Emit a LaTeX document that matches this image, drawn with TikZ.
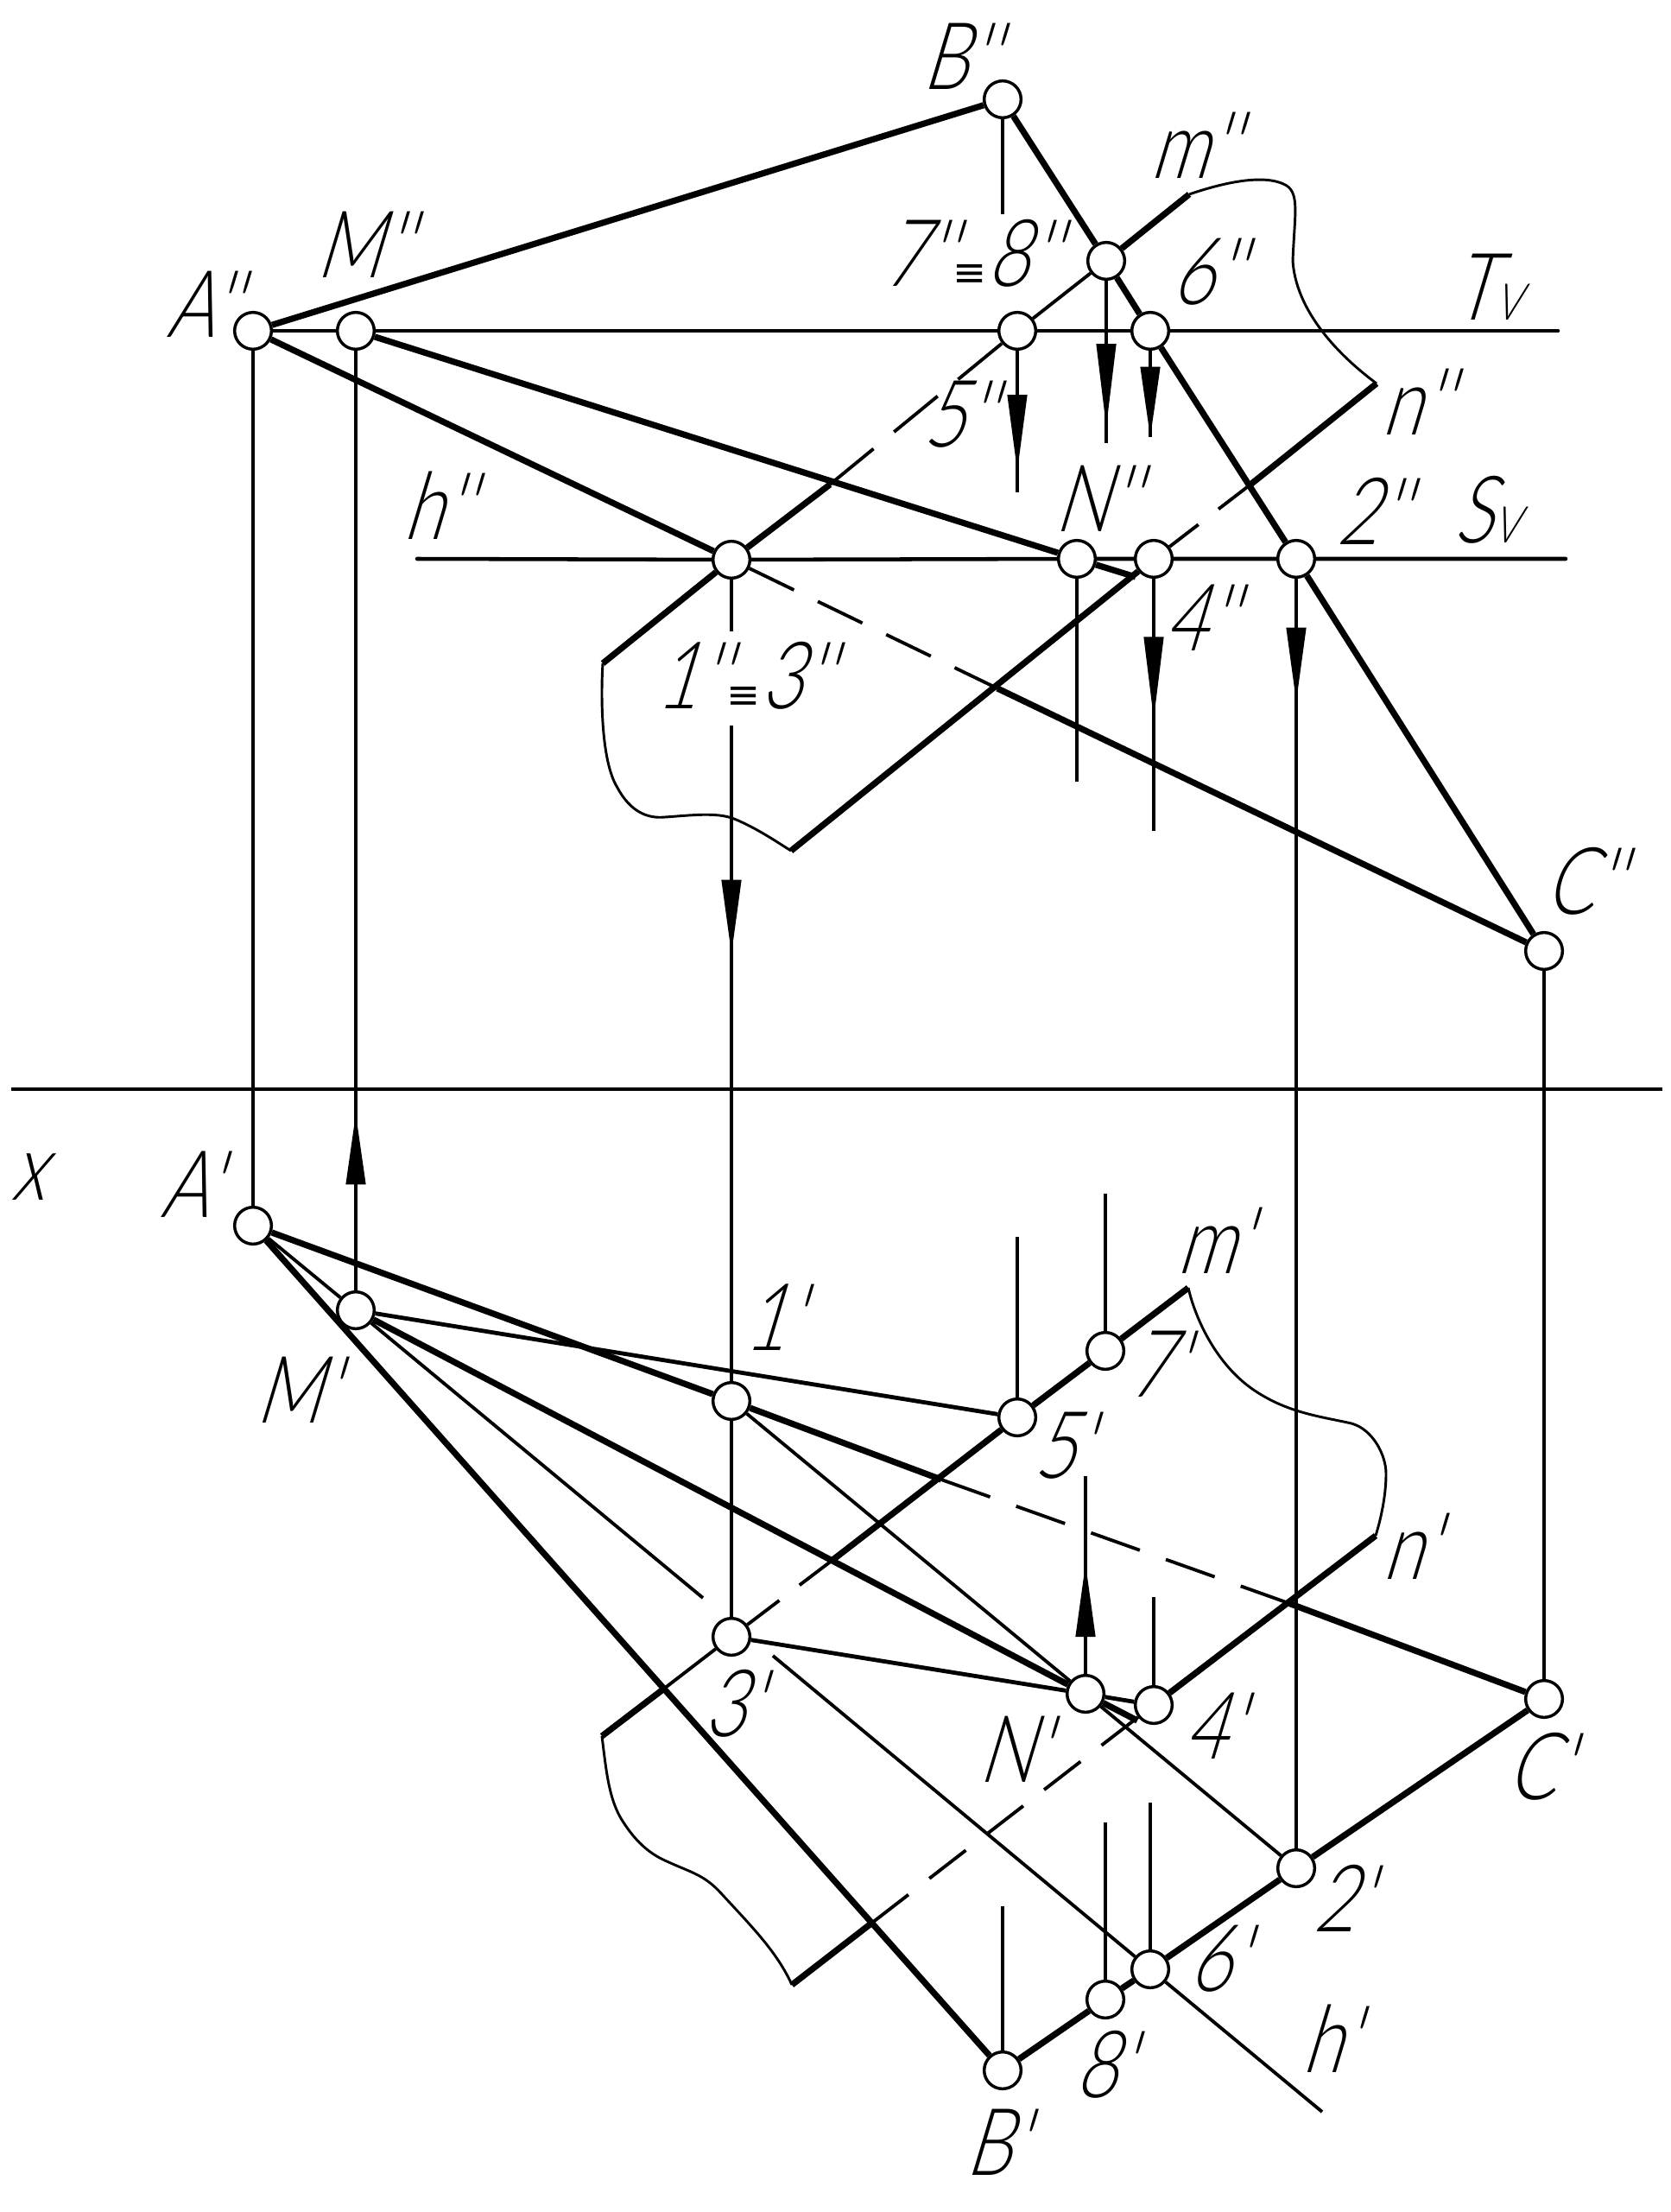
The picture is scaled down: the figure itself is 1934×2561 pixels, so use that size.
\documentclass[tikz,border=0pt]{standalone}
\usepackage{fontspec}
\usetikzlibrary{arrows.meta}
\newfontfamily\lb[FakeSlant=.3,FakeStretch=.78]{Lato Light}
\newfontfamily\eqf{DejaVu Sans}
\newcommand{\smV}{{\fontsize{44pt}{44pt}\selectfont V}}
\newcommand{\eqv}{{\eqf\fontsize{35pt}{35pt}\selectfont ≡}}
\tikzset{
  x=0.75pt,y=-0.75pt,
  pt/.style={circle,draw,fill=white,line width=2.6pt,minimum size=32pt,inner sep=0pt},
  lbl/.style={font=\lb\fontsize{81pt}{81pt}\selectfont,inner sep=0pt,text=black,xshift=-8pt},
  fine/.style={line width=2.9pt},
  mid/.style={line width=3.6pt},
  tr/.style={line width=3.4pt,line cap=round},
  bold/.style={line width=5.4pt,line join=round},
  curvel/.style={line width=2.2pt,line join=round},
  dsh/.style={line width=2.9pt,dash pattern=on #1},
  arr/.style={line width=2.9pt,-{Triangle[length=#1,width=17.5pt,line width=0pt]}}
}
\begin{document}
\begin{tikzpicture}
\useasboundingbox[fill=white] (0,0) rectangle (1934,2561);
% points, upper view
\node[pt] (Au) at (293,383) {};
\node[pt] (Mu) at (412,383) {};
\node[pt] (Bu) at (1161,115) {};
\node[pt] (Ju) at (1281,302) {};
\node[pt] (Fu) at (1178,383) {};
\node[pt] (Su) at (1332,383) {};
\node[pt] (Ou) at (847,648) {};
\node[pt] (Nu) at (1247,647) {};
\node[pt] (Du) at (1336,647) {};
\node[pt] (Tu) at (1501,647) {};
\node[pt] (Cu) at (1788,1101) {};
% points, lower view
\node[pt] (Al) at (293,1419) {};
\node[pt] (Ml) at (412,1517) {};
\node[pt] (Ol) at (847,1622) {};
\node[pt] (Fl) at (1178,1641) {};
\node[pt] (Vl) at (1280,1564) {};
\node[pt] (Hl) at (847,1895) {};
\node[pt] (Nl) at (1257,1961) {};
\node[pt] (Dl) at (1336,1974) {};
\node[pt] (Tl) at (1501,2163) {};
\node[pt] (Sl) at (1332,2280) {};
\node[pt] (El) at (1280,2315) {};
\node[pt] (Bl) at (1161,2397) {};
\node[pt] (Cl) at (1788,1967) {};
% free ends
\coordinate (xa) at (13,1261); \coordinate (xb) at (1925,1261);
\coordinate (tvend) at (1804,383);
\coordinate (hstart) at (483,647); \coordinate (svend) at (1813,647);
\coordinate (mu) at (1377,225); \coordinate (nu) at (1594,444);
\coordinate (pua) at (698,768); \coordinate (pub) at (916,985);
\coordinate (nstub) at (1315,668);
\coordinate (acthick) at (1155,797);
\coordinate (mthick) at (961,561);
\coordinate (nthick) at (1448,561);
\coordinate (ml) at (1376,1491); \coordinate (nl) at (1593,1778);
\coordinate (pla) at (697,2010); \coordinate (plb) at (917,2298);
\coordinate (mlthick) at (963,1807); \coordinate (mlthin) at (769,1955);
\coordinate (nlthick) at (1010,2226);
\coordinate (acla) at (1090,1713); \coordinate (aclb) at (1492,1856);
\coordinate (hgap1) at (814,1850); \coordinate (hgap2) at (895,1917); \coordinate (hend) at (1531,2445);
\coordinate (lstub) at (1317,1992);
% stems and arrows, upper
\coordinate (b1) at (1161,248);
\coordinate (f1) at (1178,545); \coordinate (f2) at (1178,570);
\coordinate (j1) at (1281,494); \coordinate (j2) at (1281,513);
\coordinate (s1) at (1332,506);
\coordinate (n1) at (1247,905);
\coordinate (d1) at (1336,832); \coordinate (d2) at (1336,962);
\coordinate (t1) at (1501,812);
\coordinate (o1) at (847,731); \coordinate (o2) at (847,840); \coordinate (o3) at (847,1104);
% stems and arrows, lower
\coordinate (m1) at (412,1290);
\coordinate (f3) at (1178,1432); \coordinate (v3) at (1280,1382);
\coordinate (n3) at (1257,1811); \coordinate (n4) at (1257,1709);
\coordinate (d3) at (1336,1849);
\coordinate (s3) at (1332,2087); \coordinate (e3) at (1280,2110); \coordinate (b3) at (1161,2207);
% axis and traces
\draw[fine] (xa) -- (xb);
\draw[tr] (Au) -- (Mu) -- (Fu) -- (Su) -- (tvend);
\draw[tr] (hstart) -- (Ou) -- (Nu) -- (Du) -- (Tu) -- (svend);
% triangle, upper
\draw[bold] (Au) -- (Bu);
\draw[bold] (Bu) -- (Ju);
\draw[bold] (Ju) -- (Su);
\draw[bold] (Su) -- (Tu);
\draw[bold] (Tu) -- (Cu);
\draw[bold] (Au) -- (Ou);
\draw[dsh={43pt off 23pt}] (Ou) -- (acthick);
\draw[bold] (acthick) -- (Cu);
% line MN, upper
\draw[bold] (Mu) -- (Nu);
\draw[bold] (Nu) -- (nstub);
% plane, upper
\draw[bold] (mu) -- (Ju);
\draw[fine] (Ju) -- (Fu);
\draw[dsh={49pt off 23pt}] (mthick) -- (Fu);
\draw[bold] (mthick) -- (Ou);
\draw[bold] (Ou) -- (pua);
\draw[bold] (nu) -- (nthick);
\draw[dsh={35pt off 22pt}] (nthick) -- (Du);
\draw[bold] (Du) -- (pub);
\draw[curvel] (mu) .. controls (1415,212) and (1465,200) .. (1490,215) .. controls (1505,225) and (1499,250) .. (1497,302) .. controls (1500,350) and (1535,400) .. (nu);
\draw[curvel] (pua) .. controls (696,800) and (695,880) .. (715,912) .. controls (730,940) and (750,948) .. (770,946) .. controls (800,944) and (830,940) .. (850,948) .. controls (875,958) and (900,975) .. (pub);
% projection lines
\draw[fine] (Bu) -- (b1);
\draw[fine] (Au) -- (Al);
\draw[fine] (Cu) -- (Cl);
\draw[fine] (Fu) -- (f2); \draw[arr=66pt] (Fu) -- (f1);
\draw[fine] (Ju) -- (j2); \draw[arr=72pt] (Ju) -- (j1);
\draw[fine] (Su) -- (s1); \draw[arr=61pt] (Su) -- (s1);
\draw[fine] (Nu) -- (n1);
\draw[fine] (Du) -- (d2); \draw[arr=71pt] (Du) -- (d1);
\draw[fine] (Tu) -- (Tl); \draw[arr=64pt] (Tu) -- (t1);
\draw[fine] (Ou) -- (o1);
\draw[fine] (o2) -- (Ol); \draw[arr=64pt] (o2) -- (o3);
\draw[fine] (Ol) -- (Hl);
\draw[fine] (Ml) -- (Mu); \draw[arr=61pt] (Ml) -- (m1);
% triangle, lower
\draw[bold] (Al) -- (Bl);
\draw[bold] (Al) -- (Ol);
\draw[bold] (Ol) -- (acla);
\draw[dsh={45pt off 24pt}] (acla) -- (aclb);
\draw[bold] (aclb) -- (Cl);
\draw[bold] (Bl) -- (El);
\draw[bold] (El) -- (Sl);
\draw[bold] (Sl) -- (Tl);
\draw[bold] (Tl) -- (Cl);
% lines, lower
\draw[fine] (Al) -- (Ml);
\draw[fine] (Ml) -- (hgap1);
\draw[fine] (hgap2) -- (Sl);
\draw[fine] (Sl) -- (hend);
\draw[mid] (Ml) -- (Fl);
\draw[bold] (Ml) -- (Nl);
\draw[bold] (Nl) -- (lstub);
\draw[fine] (Ol) -- (Nl);
\draw[fine] (Nl) -- (Tl);
\draw[mid] (Hl) -- (Nl);
\draw[mid] (Nl) -- (Dl);
% plane, lower
\draw[bold] (ml) -- (Vl);
\draw[bold] (Vl) -- (Fl);
\draw[bold] (Fl) -- (mlthick);
\draw[dsh={35pt off 22pt}] (mlthick) -- (Hl);
\draw[fine] (Hl) -- (mlthin);
\draw[bold] (mlthin) -- (pla);
\draw[bold] (nl) -- (Dl);
\draw[dsh={40pt off 23pt}] (Dl) -- (nlthick);
\draw[bold] (nlthick) -- (plb);
\draw[curvel] (ml) .. controls (1385,1530) and (1410,1580) .. (1450,1608) .. controls (1490,1636) and (1530,1640) .. (1565,1648) .. controls (1590,1655) and (1605,1685) .. (1605,1706) .. controls (1605,1730) and (1600,1755) .. (nl);
\draw[curvel] (pla) .. controls (702,2050) and (705,2085) .. (722,2110) .. controls (735,2130) and (750,2145) .. (770,2154) .. controls (800,2168) and (815,2170) .. (835,2192) .. controls (870,2230) and (900,2260) .. (plb);
% stems, lower
\draw[fine] (Fl) -- (f3);
\draw[fine] (Vl) -- (v3);
\draw[fine] (Nl) -- (n4); \draw[arr=63pt] (Nl) -- (n3);
\draw[fine] (Dl) -- (d3);
\draw[fine] (Sl) -- (s3);
\draw[fine] (El) -- (e3);
\draw[fine] (Bl) -- (b3);
% labels, upper
\node[lbl] (lBu) at (1121,65) {B''};
\node[lbl] (lAu) at (245,352) {A''};
\node[lbl] (lMu) at (431,283) {M''};
\node[lbl] (lhu) at (517,585) {h''};
\node[lbl] (lOu) at (872,782) {1''\eqv3''};
\node[lbl] (lJu) at (1134,293) {7''\eqv8''};
\node[lbl] (lmu) at (1392,168) {m''};
\node[lbl] (lSu) at (1408,315) {6''};
\node[lbl] (lTv) at (1732,332) {T\smV};
\node[lbl] (lnu) at (1650,465) {n''};
\node[lbl] (lFu) at (1120,480) {5''};
\node[lbl] (lNu) at (1279,577) {N''};
\node[lbl] (lTu) at (1599,592) {2''};
\node[lbl] (lSv) at (1732,590) {S\smV};
\node[lbl] (lDu) at (1400,715) {4''};
\node[lbl] (lCu) at (1844,1020) {C''};
% labels, lower
\node[lbl] (lx) at (43,1363) {x};
\node[lbl] (lAl) at (230,1371) {A'};
\node[lbl] (lMl) at (353,1609) {M'};
\node[lbl] (lOl) at (905,1525) {1'};
\node[lbl] (lml) at (1415,1436) {m'};
\node[lbl] (lVl) at (1350,1579) {7'};
\node[lbl] (lFl) at (1240,1674) {5'};
\node[lbl] (lnl) at (1642,1790) {n'};
\node[lbl] (lHl) at (858,1972) {3'};
\node[lbl] (lNl) at (1183,2025) {N'};
\node[lbl] (lDl) at (1415,1998) {4'};
\node[lbl] (lCl) at (1792,2045) {C'};
\node[lbl] (lTl) at (1564,2198) {2'};
\node[lbl] (lSl) at (1420,2268) {6'};
\node[lbl] (lEl) at (1288,2390) {8'};
\node[lbl] (lhl) at (1549,2360) {h'};
\node[lbl] (lBl) at (1163,2480) {B'};
\end{tikzpicture}
\end{document}
